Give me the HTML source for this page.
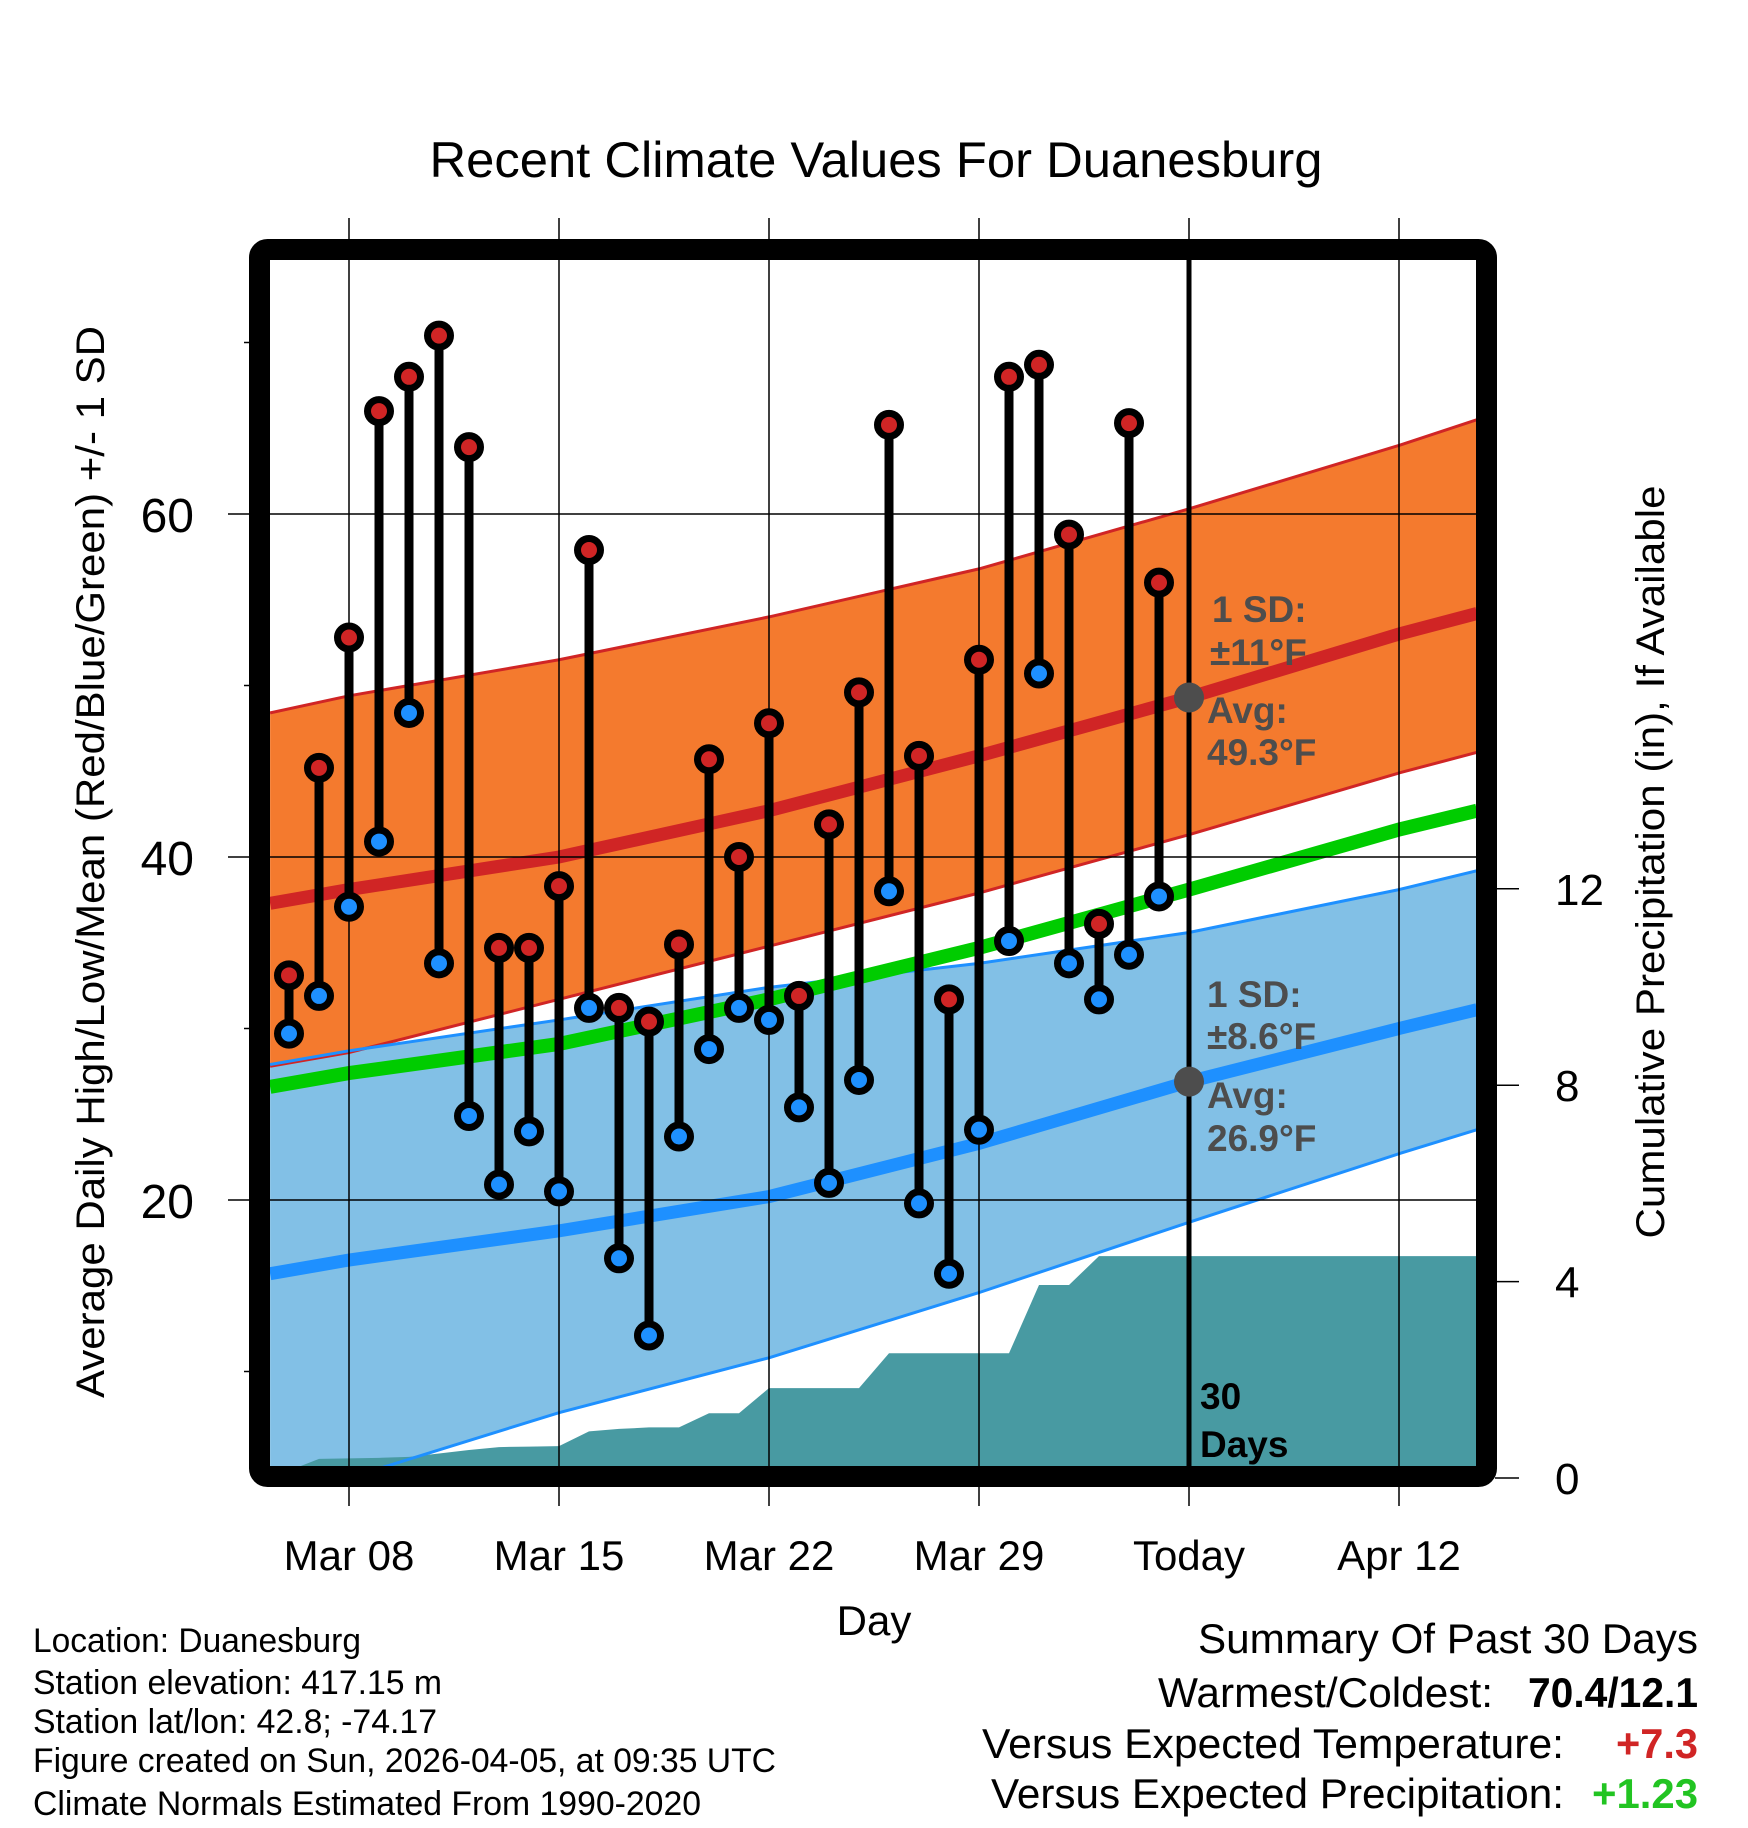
<!DOCTYPE html>
<html><head><meta charset="utf-8"><style>
html,body{margin:0;padding:0;background:#fff;}
svg{display:block;}
text{font-family:"Liberation Sans",Arial,sans-serif;}
</style></head><body>
<svg id="chart" width="1748" height="1828" viewBox="0 0 1748 1828" xmlns="http://www.w3.org/2000/svg">
<defs><clipPath id="plotclip"><rect x="270" y="260" width="1207" height="1207"/></clipPath></defs>
<text x="876" y="177" font-size="50" text-anchor="middle" textLength="893" lengthAdjust="spacingAndGlyphs">Recent Climate Values For Duanesburg</text>
<g id="bands" clip-path="url(#plotclip)"></g>
<g id="grid"></g>
<g id="marks"></g>
<rect x="259.5" y="249.5" width="1227" height="1227" rx="8" fill="none" stroke="#000" stroke-width="21"/>
<g id="axes"></g>
<text transform="translate(104,862) rotate(-90)" font-size="40" text-anchor="middle" textLength="1072" lengthAdjust="spacingAndGlyphs">Average Daily High/Low/Mean (Red/Blue/Green) +/- 1 SD</text>
<text transform="translate(1664,862) rotate(-90)" font-size="40" text-anchor="middle" textLength="753" lengthAdjust="spacingAndGlyphs">Cumulative Precipitation (in), If Available</text>
<text x="874" y="1635" font-size="42" text-anchor="middle">Day</text>
<g font-size="34">
<text x="33" y="1652" textLength="328" lengthAdjust="spacingAndGlyphs">Location: Duanesburg</text>
<text x="33" y="1694" textLength="409" lengthAdjust="spacingAndGlyphs">Station elevation: 417.15 m</text>
<text x="33" y="1733" textLength="404" lengthAdjust="spacingAndGlyphs">Station lat/lon: 42.8; -74.17</text>
<text x="33" y="1772" textLength="743" lengthAdjust="spacingAndGlyphs">Figure created on Sun, 2026-04-05, at 09:35 UTC</text>
<text x="33" y="1815" textLength="668" lengthAdjust="spacingAndGlyphs">Climate Normals Estimated From 1990-2020</text>
</g>
<g font-size="42">
<text x="1198" y="1653" textLength="500" lengthAdjust="spacingAndGlyphs">Summary Of Past 30 Days</text>
<text x="1158" y="1707" textLength="335" lengthAdjust="spacingAndGlyphs">Warmest/Coldest:</text>
<text x="1528" y="1707" font-weight="bold" textLength="170" lengthAdjust="spacingAndGlyphs">70.4/12.1</text>
<text x="982" y="1758" textLength="582" lengthAdjust="spacingAndGlyphs">Versus Expected Temperature:</text>
<text x="1616" y="1758" font-weight="bold" fill="#d02525" textLength="82" lengthAdjust="spacingAndGlyphs">+7.3</text>
<text x="991" y="1808" textLength="573" lengthAdjust="spacingAndGlyphs">Versus Expected Precipitation:</text>
<text x="1592" y="1808" font-weight="bold" fill="#22c422" textLength="106" lengthAdjust="spacingAndGlyphs">+1.23</text>
</g>
</svg>
<script>
// Observed daily data, Mar 06 .. Apr 04 (day index 0..29)
const highs = [33.1,45.2,52.8,66.0,68.0,70.4,63.9,34.7,34.7,38.3,57.9,31.2,30.4,34.9,45.7,40.0,47.8,31.9,41.9,49.6,65.2,45.9,31.7,51.5,68.0,68.7,58.8,36.1,65.3,56.0];
const lows  = [29.7,31.9,37.1,40.9,48.4,33.8,24.9,20.9,24.0,20.5,31.2,16.6,12.1,23.7,28.8,31.2,30.5,25.4,21.0,27.0,38.0,19.8,15.7,24.1,35.1,50.7,33.8,31.7,34.3,37.7];
const precipCum = [0.15,0.39,0.40,0.41,0.43,0.50,0.57,0.63,0.64,0.65,0.95,1.00,1.03,1.03,1.32,1.32,1.83,1.83,1.83,1.83,2.54,2.54,2.54,2.54,2.54,3.93,3.93,4.52,4.52,4.52];
// Climate normals at day indices
const normDays  = [-0.63,2,9,16,23,30,37,39.6];
const hiUpper   = [48.4,49.4,51.5,54.0,56.8,60.3,64.0,65.5];
const hiMean    = [37.3,38.1,40.0,42.7,45.9,49.3,53.0,54.2];
const hiLower   = [27.8,28.6,31.7,34.8,37.9,41.3,44.9,46.1];
const avgMean   = [26.6,27.4,29.1,31.7,34.7,38.1,41.6,42.7];
const loUpper   = [27.9,28.7,30.5,32.4,33.8,35.6,38.1,39.2];
const loMean    = [15.7,16.5,18.2,20.2,23.3,26.9,30.0,31.1];
const loLower   = [1.5,3.8,7.6,10.8,14.6,18.7,22.7,24.1];
const todayIndex = 30;
const todayHi = 49.3;
const todayLo = 26.9;
const xTickDays = [2,9,16,23,30,37];
const xTickLabels = ["Mar 08","Mar 15","Mar 22","Mar 29","Today","Apr 12"];
const yMajor = [20,40,60];
const yMinor = [10,30,50,70];
const pTicks = [0,4,8,12];

const NS="http://www.w3.org/2000/svg";
function X(d){return 289+30*d;}
function Y(t){return 514+(60-t)*17.15;}
function P(p){return 1478-p*49.1;}
function el(tag,attrs,parent){const e=document.createElementNS(NS,tag);for(const k in attrs)e.setAttribute(k,attrs[k]);parent.appendChild(e);return e;}
const bands=document.getElementById('bands'),grid=document.getElementById('grid'),marks=document.getElementById('marks'),axes=document.getElementById('axes');
function linePts(arr){return normDays.map((d,i)=>X(d)+','+Y(arr[i])).join(' ');}
function bandPts(up,lo){const a=normDays.map((d,i)=>X(d)+','+Y(up[i]));const b=normDays.map((d,i)=>X(d)+','+Y(lo[i])).reverse();return a.concat(b).join(' ');}

let e;
e=el('polygon',{points:bandPts(hiUpper,hiLower),fill:'#f47a2e'},bands);


e=el('polygon',{points:bandPts(loUpper,loLower),fill:'#82c0e6'},bands);


let pp=[X(0)+','+P(0)];
precipCum.forEach((v,i)=>pp.push(X(i)+','+P(v)));
pp.push(X(39.7)+','+P(precipCum[precipCum.length-1]));
pp.push(X(39.7)+','+P(0));
e=el('polygon',{points:pp.join(' '),fill:'#489aa2'},bands);


const lines=[[hiUpper,'#d02525',3,'high-upper-line'],[hiLower,'#d02525',3,'high-lower-line'],[loUpper,'#1e90ff',3,'low-upper-line'],[loLower,'#1e90ff',3,'low-lower-line'],[hiMean,'#d02525',13,'high-mean-line'],[loMean,'#1e90ff',13,'low-mean-line'],[avgMean,'#00cc00',14,'mean-line']];
lines.forEach(l=>{
  const ln=el('polyline',{points:linePts(l[0]),fill:'none',stroke:l[1],'stroke-width':l[2]},bands);
  
  
});
yMajor.forEach(t=>{
  const g=el('line',{x1:228,x2:1477,y1:Y(t),y2:Y(t),stroke:'#000','stroke-width':1.5},grid);
  
  
  const tx=el('text',{x:194,y:Y(t)+18,'font-size':48,'text-anchor':'end'},axes);
  tx.textContent=t;
  
  
});
yMinor.forEach(t=>{
  const g=el('line',{x1:244,x2:255,y1:Y(t),y2:Y(t),stroke:'#000','stroke-width':1.5},grid);
  
  
});
xTickDays.forEach((d,i)=>{
  const g=el('line',{x1:X(d),x2:X(d),y1:218,y2:1506,stroke:'#000','stroke-width':1.5},grid);
  
  
  const tx=el('text',{x:X(d),y:1570,'font-size':42,'text-anchor':'middle'},axes);
  tx.textContent=xTickLabels[i];
  
  
});
pTicks.forEach(p=>{
  const g=el('line',{x1:1495,x2:1519,y1:P(p),y2:P(p),stroke:'#000','stroke-width':1.5},axes);
  
  
  const tx=el('text',{x:1555,y:P(p)+16,'font-size':44},axes);
  tx.textContent=p;
  
  
});
e=el('line',{x1:X(todayIndex),x2:X(todayIndex),y1:260,y2:1467,stroke:'#000','stroke-width':5},grid);


const ann=[["1 SD:",1212,622],["\u00B111\u00B0F",1210,665],["Avg:",1207,723],[todayHi.toFixed(1)+"\u00B0F",1207,765],["1 SD:",1207,1007],["\u00B18.6\u00B0F",1207,1049],["Avg:",1207,1108],[todayLo.toFixed(1)+"\u00B0F",1207,1151]];
ann.forEach(a=>{
  const tx=el('text',{x:a[1],y:a[2],'font-size':37,'font-weight':'bold',fill:'#4d4d4d'},grid);
  tx.textContent=a[0];
  
  
});
e=el('circle',{cx:X(todayIndex),cy:Y(todayHi),r:15,fill:'#4d4d4d'},grid);


e=el('circle',{cx:X(todayIndex),cy:Y(todayLo),r:15,fill:'#4d4d4d'},grid);


e=el('text',{x:1200,y:1409,'font-size':37,'font-weight':'bold'},grid);e.textContent='30';


e=el('text',{x:1200,y:1457,'font-size':37,'font-weight':'bold'},grid);e.textContent='Days';


highs.forEach((h,i)=>{
  const s=el('line',{x1:X(i),x2:X(i),y1:Y(h),y2:Y(lows[i]),stroke:'#000','stroke-width':9},marks);
  
  
});
highs.forEach((h,i)=>{
  const c1=el('circle',{cx:X(i),cy:Y(h),r:11.5,fill:'#d02525',stroke:'#000','stroke-width':7},marks);
  
  
  const c2=el('circle',{cx:X(i),cy:Y(lows[i]),r:11.5,fill:'#1e90ff',stroke:'#000','stroke-width':7},marks);
  
  
});
</script>
</body></html>
